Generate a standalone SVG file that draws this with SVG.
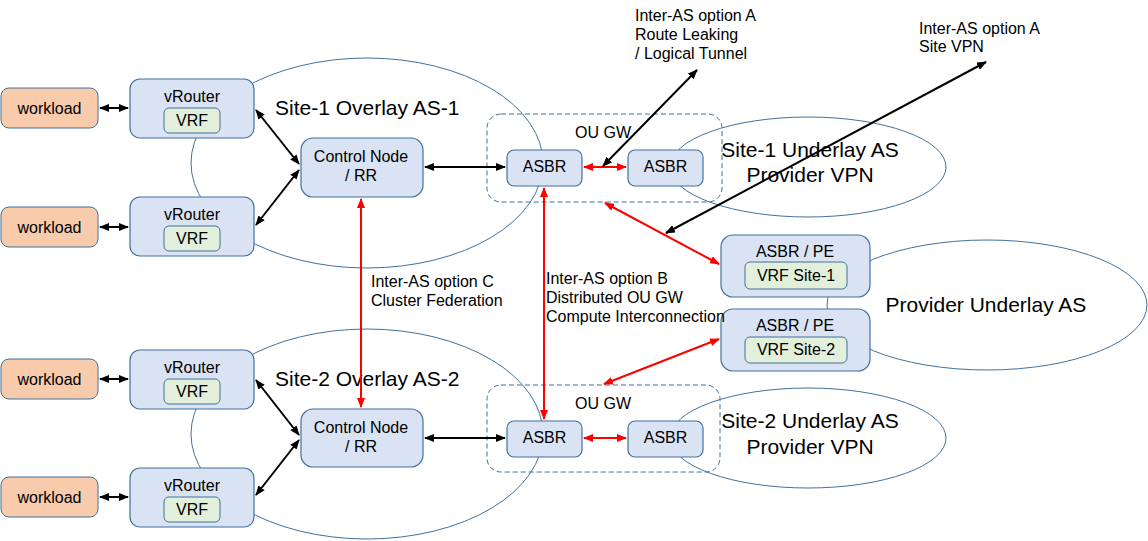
<svg xmlns="http://www.w3.org/2000/svg" width="1148" height="541" viewBox="0 0 1148 541">
<defs>
<style>
text{font-family:"Liberation Sans",Arial,sans-serif;fill:#000}
.t16{font-size:16px;text-anchor:middle}
.t15{font-size:16px;text-anchor:middle}
.lbl{font-size:16px}
.big{font-size:21px}
.region{fill:none;stroke:#41719c;stroke-width:1}
.dash{fill:none;stroke:#41719c;stroke-width:1;stroke-dasharray:5,3}
.wl{fill:#f8cbad;stroke:#41719c;stroke-width:1}
.nd{fill:#dae3f3;stroke:#41719c;stroke-width:1.2}
.vrf{fill:#e2efda;stroke:#41719c;stroke-width:1}
.blk{stroke:#000;stroke-width:2;fill:none;marker-start:url(#ab);marker-end:url(#ab)}
.red{stroke:#ff0000;stroke-width:2;fill:none;marker-start:url(#ar);marker-end:url(#ar)}
</style>
<marker id="ab" markerUnits="userSpaceOnUse" markerWidth="10" markerHeight="8" refX="9" refY="4" orient="auto-start-reverse"><path d="M0,0 L10,4 L0,8 z" fill="#000"/></marker>
<marker id="ar" markerUnits="userSpaceOnUse" markerWidth="10" markerHeight="8" refX="9" refY="4" orient="auto-start-reverse"><path d="M0,0 L10,4 L0,8 z" fill="#ff0000"/></marker>
</defs>
<rect width="1148" height="541" fill="#fff"/>

<g id="regions">
<g id="site1-overlay"><ellipse class="region" cx="367" cy="163" rx="176" ry="105"/><text class="big" x="275" y="115">Site-1 Overlay AS-1</text></g>
<g id="site2-overlay"><ellipse class="region" cx="367" cy="434" rx="176" ry="105"/><text class="big" x="275" y="386">Site-2 Overlay AS-2</text></g>
<g id="site1-underlay"><ellipse class="region" cx="808" cy="167" rx="138" ry="50"/><text class="big" x="810" y="157" text-anchor="middle">Site-1 Underlay AS</text><text class="big" x="810" y="182" text-anchor="middle">Provider VPN</text></g>
<g id="site2-underlay"><ellipse class="region" cx="808" cy="438" rx="138" ry="50"/><text class="big" x="810" y="428" text-anchor="middle">Site-2 Underlay AS</text><text class="big" x="810" y="454" text-anchor="middle">Provider VPN</text></g>
<g id="provider-underlay"><ellipse class="region" cx="987" cy="305" rx="160" ry="65"/><text class="big" x="986" y="312" text-anchor="middle">Provider Underlay AS</text></g>
<g id="ougw1"><rect class="dash" x="487" y="114" width="235" height="88" rx="14"/><text class="t15" x="603" y="138">OU GW</text></g>
<g id="ougw2"><rect class="dash" x="487" y="385" width="233" height="87" rx="14"/><text class="t15" x="603" y="409">OU GW</text></g>
</g>

<g id="connectors">
<line class="blk" x1="100" y1="108" x2="128" y2="108"/>
<line class="blk" x1="100" y1="227" x2="128" y2="227"/>
<line class="blk" x1="100" y1="379" x2="128" y2="379"/>
<line class="blk" x1="100" y1="497" x2="128" y2="497"/>
<line class="blk" x1="256" y1="110" x2="299" y2="164"/>
<line class="blk" x1="256" y1="225" x2="299" y2="170"/>
<line class="blk" x1="256" y1="380" x2="299" y2="435"/>
<line class="blk" x1="256" y1="495" x2="299" y2="440"/>
<line class="blk" x1="425" y1="167" x2="505" y2="167"/>
<line class="blk" x1="425" y1="438" x2="505" y2="438"/>
<line class="red" x1="584" y1="167" x2="626" y2="167"/>
<line class="red" x1="584" y1="438" x2="626" y2="438"/>
<line class="red" x1="361" y1="199" x2="361" y2="407"/>
<line class="red" x1="544" y1="188" x2="544" y2="419"/>
<line class="red" x1="605" y1="203" x2="719" y2="264"/>
<line class="red" x1="604" y1="384" x2="719" y2="339"/>
<line class="blk" x1="603" y1="166" x2="697" y2="70"/>
<line class="blk" x1="666" y1="233" x2="986" y2="62"/>
</g>

<g id="workload1"><rect class="wl" x="1" y="88" width="97" height="40" rx="8"/><text class="t16" x="49.5" y="114">workload</text></g>
<g id="workload2"><rect class="wl" x="1" y="207" width="97" height="40" rx="8"/><text class="t16" x="49.5" y="233">workload</text></g>
<g id="workload3"><rect class="wl" x="1" y="359" width="97" height="40" rx="8"/><text class="t16" x="49.5" y="385">workload</text></g>
<g id="workload4"><rect class="wl" x="1" y="477" width="97" height="40" rx="8"/><text class="t16" x="49.5" y="503">workload</text></g>

<g id="vrouter1"><rect class="nd" x="130" y="79" width="124" height="59" rx="10"/><text class="t16" x="192" y="102">vRouter</text><rect class="vrf" x="164" y="108" width="56" height="25" rx="5"/><text class="t16" x="192" y="126">VRF</text></g>
<g id="vrouter2"><rect class="nd" x="130" y="197" width="124" height="59" rx="10"/><text class="t16" x="192" y="220">vRouter</text><rect class="vrf" x="164" y="226" width="56" height="25" rx="5"/><text class="t16" x="192" y="244">VRF</text></g>
<g id="vrouter3"><rect class="nd" x="130" y="350" width="124" height="59" rx="10"/><text class="t16" x="192" y="373">vRouter</text><rect class="vrf" x="164" y="379" width="56" height="25" rx="5"/><text class="t16" x="192" y="397">VRF</text></g>
<g id="vrouter4"><rect class="nd" x="130" y="468" width="124" height="59" rx="10"/><text class="t16" x="192" y="491">vRouter</text><rect class="vrf" x="164" y="497" width="56" height="25" rx="5"/><text class="t16" x="192" y="515">VRF</text></g>

<g id="cn1"><rect class="nd" x="301" y="138" width="122" height="59" rx="12"/><text class="t15" x="361" y="162">Control Node</text><text class="t15" x="361" y="181">/ RR</text></g>
<g id="cn2"><rect class="nd" x="301" y="409" width="122" height="58" rx="12"/><text class="t15" x="361" y="433">Control Node</text><text class="t15" x="361" y="452">/ RR</text></g>

<g id="asbr1a"><rect class="nd" x="507" y="150" width="75" height="36" rx="7"/><text class="t15" x="544.5" y="172">ASBR</text></g>
<g id="asbr1b"><rect class="nd" x="628" y="150" width="75" height="36" rx="7"/><text class="t15" x="665.5" y="172">ASBR</text></g>
<g id="asbr2a"><rect class="nd" x="507" y="421" width="75" height="36" rx="7"/><text class="t15" x="544.5" y="443">ASBR</text></g>
<g id="asbr2b"><rect class="nd" x="628" y="421" width="75" height="36" rx="7"/><text class="t15" x="665.5" y="443">ASBR</text></g>

<g id="pe1"><rect class="nd" x="721" y="235" width="149" height="62" rx="12"/><text class="t15" x="795" y="257">ASBR / PE</text><rect class="vrf" x="745" y="262" width="102" height="27" rx="5"/><text class="t15" x="796" y="281">VRF Site-1</text></g>
<g id="pe2"><rect class="nd" x="721" y="309" width="149" height="62" rx="12"/><text class="t15" x="795" y="331">ASBR / PE</text><rect class="vrf" x="745" y="337" width="102" height="26" rx="5"/><text class="t15" x="796" y="355">VRF Site-2</text></g>

<g id="connector-labels">
<text class="lbl" x="371" y="287">Inter-AS option C</text>
<text class="lbl" x="371" y="306">Cluster Federation</text>
<text class="lbl" x="546" y="284">Inter-AS option B</text>
<text class="lbl" x="546" y="303">Distributed OU GW</text>
<text class="lbl" x="546" y="322">Compute Interconnection</text>
<text class="lbl" x="635" y="21">Inter-AS option A</text>
<text class="lbl" x="635" y="40">Route Leaking</text>
<text class="lbl" x="635" y="59">/ Logical Tunnel</text>
<text class="lbl" x="919" y="34">Inter-AS option A</text>
<text class="lbl" x="919" y="52">Site VPN</text>
</g>
</svg>
